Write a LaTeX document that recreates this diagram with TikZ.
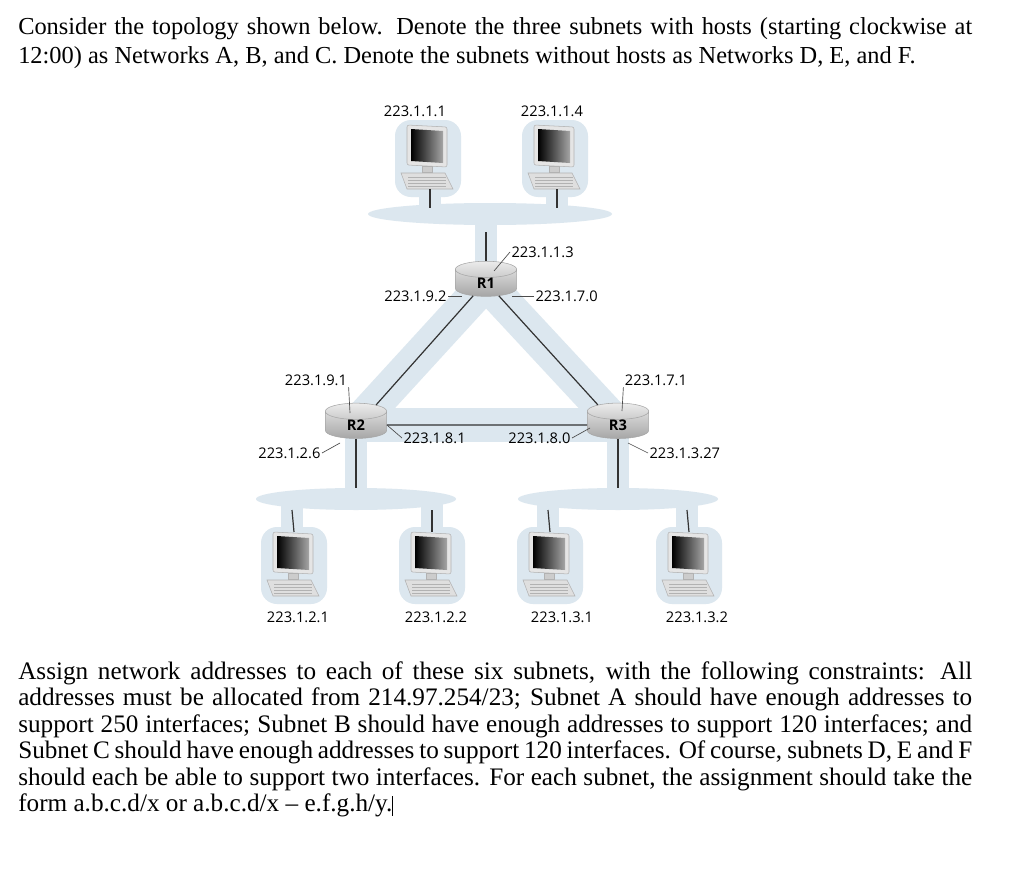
\documentclass[tikz,border=0pt]{standalone}
\usepackage{fontspec}
\setmainfont{Liberation Serif}
\newfontfamily\lbl{Open Sans}
\usetikzlibrary{shapes.geometric}
\definecolor{blob}{HTML}{DCE7EF}
\tikzset{
 x=0.75pt,y=-0.75pt,
 lab/.style={font=\lbl\fontsize{11}{12}\selectfont,inner sep=1pt},
 wire/.style={line width=0.9pt,black!80},
 band/.style={line width=26,blob,line cap=round},
 stem/.style={line width=16,blob},
 lead/.style={line width=0.5pt,black!70},
 router/.style={cylinder,shape border rotate=90,aspect=0.9,minimum width=46,minimum height=21,inner sep=0pt,draw=gray!70,top color=gray!15,bottom color=gray!70,font=\lbl\bfseries\fontsize{11}{11}\selectfont},
 pics/host/.style={code={
  \fill[blob,rounded corners=12] (-33,-37) rectangle (33,40);
  \fill[gray!20,draw=gray!60,rounded corners=1.5] (-21,-32) -- (19,-30) -- (19,10) -- (-21,8) -- cycle;
  \shade[shading angle=135,left color=black,right color=gray!70] (-17,-28) -- (15,-26) -- (15,6) -- (-17,4) -- cycle;
  \fill[gray!40,draw=gray!60] (-6,9) rectangle (4,15);
  \fill[gray!25,draw=gray!60] (-27,16) -- (17,16) -- (25,32) -- (-21,32) -- cycle;
  \foreach \yy in {20,23,26,29}{\draw[gray!60,line width=0.6pt] (-20,\yy) -- (18,\yy);}
  \coordinate (-top) at (0,-32);
  \coordinate (-bot) at (0,32);
 }}
}
\begin{document}
\begin{tikzpicture}
\useasboundingbox (0,0) rectangle (1024,878);
\fill[white] (0,0) rectangle (1024,878);
% text
\node[anchor=north west,text width=715.5pt,align=justify,inner sep=0pt,font=\fontsize{18.3}{21.75}\selectfont] (t1) at (18,17) {Consider the topology shown below. Denote the three subnets with hosts (starting clockwise at 12:00) as Networks A, B, and C. Denote the subnets without hosts as Networks D, E, and F.};
\node[anchor=north west,text width=715.5pt,align=justify,inner sep=0pt,font=\fontsize{18.9}{19.9}\selectfont] (t2) at (18,661) {\hyphenpenalty=10000\relax Assign network addresses to each of these six subnets, with the following constraints: All\linebreak addresses must be allocated from 214.97.254/23; Subnet A should have enough addresses to\linebreak support 250 interfaces; Subnet B should have enough addresses to support 120 interfaces; and\linebreak Subnet C should have enough addresses to support 120 interfaces. Of course, subnets D, E and F\linebreak should each be able to support two interfaces. For each subnet, the assignment should take the\linebreak form a.b.c.d/x or a.b.c.d/x -- e.f.g.h/y.\rule[-3pt]{0.5pt}{15pt}\hfill\null};
% coordinates
\coordinate (R1p) at (486,283);
\coordinate (R2p) at (356,425);
\coordinate (R3p) at (618,425);
% bands
\draw[band] (R1p) -- (R2p);
\draw[band] (R1p) -- (R3p);
\draw[band] (R2p) -- (R3p);
\fill[blob] (490,214) ellipse [x radius=122,y radius=11];
\fill[blob] (356,499) ellipse [x radius=100,y radius=11];
\fill[blob] (618,499) ellipse [x radius=100,y radius=11];
\draw[stem] (486,214) -- (R1p);
\draw[stem] (356,499) -- (R2p);
\draw[stem] (618,499) -- (R3p);
\foreach \xx in {430,557}{\draw[stem] (\xx,185) -- (\xx,214);}
\foreach \xx in {292,432,548,687}{\draw[stem] (\xx,499) -- (\xx,530);}
% hosts
\pic (hA1) at (428,157) {host};
\pic (hA2) at (555,157) {host};
\pic (hB1) at (294,564) {host};
\pic (hB2) at (432,564) {host};
\pic (hC1) at (550,564) {host};
\pic (hC2) at (689,564) {host};
% network bus coords
\coordinate (nA1) at (430,208); \coordinate (nA2) at (557,208);
\coordinate (nB1) at (292,510); \coordinate (nB2) at (432,510);
\coordinate (nC1) at (548,510); \coordinate (nC2) at (687,510);
\coordinate (nA) at (486,232); \coordinate (nB) at (356,488); \coordinate (nC) at (618,488);
\draw[wire] (hA1-bot) ++(2,0) coordinate (a1) -- (nA1);
\draw[wire] (hA2-bot) ++(2,0) coordinate (a2) -- (nA2);
\draw[wire] (nB1) -- (hB1-top);
\draw[wire] (nB2) -- (hB2-top);
\draw[wire] (nC1) -- (hC1-top);
\draw[wire] (nC2) -- (hC2-top);
% routers
\node[router] (R1) at (R1p) {R1};
\node[router] (R2) at (R2p) {R2};
\node[router] (R3) at (R3p) {R3};
\draw[wire] (nA) -- (R1.top);
\draw[wire] (R2.bottom) -- (nB);
\draw[wire] (R3.bottom) -- (nC);
\draw[wire] (R1.south west) -- (R2.north east);
\draw[wire] (R1.south east) -- (R3.north west);
\draw[wire] (R2.east) -- (R3.west);
% host labels
\node[lab] (lA1) at (415,111) {223.1.1.1};
\node[lab] (lA2) at (552,111) {223.1.1.4};
\node[lab] (lB1) at (298,617) {223.1.2.1};
\node[lab] (lB2) at (436,617) {223.1.2.2};
\node[lab] (lC1) at (562,617) {223.1.3.1};
\node[lab] (lC2) at (697,617) {223.1.3.2};
% interface labels
\coordinate (p192) at (462,296);
\coordinate (p170) at (512,296);
\node[lab,anchor=west] (i113) at (510,252) {223.1.1.3};
\draw[lead] (i113.west) -- (494,271);
\node[lab,anchor=east] (i192) at (448,296) {223.1.9.2};
\draw[lead] (i192.east) -- (p192);
\node[lab,anchor=west] (i170) at (534,296) {223.1.7.0};
\draw[lead] (i170.west) -- (p170);
\node[lab] (i191) at (316,380) {223.1.9.1};
\draw[lead] (i191.south east) -- (350,413);
\node[lab] (i171) at (656,380) {223.1.7.1};
\draw[lead] (i171.south west) -- (622,411);
\node[lab,anchor=west] (i181) at (402,438) {223.1.8.1};
\draw[lead] (i181.west) -- (R2.east);
\node[lab,anchor=east] (i180) at (572,438) {223.1.8.0};
\draw[lead] (i180.east) -- (590,428);
\node[lab,anchor=east] (i126) at (322,453) {223.1.2.6};
\draw[lead] (i126.east) -- (340,443);
\node[lab,anchor=west] (i1327) at (648,453) {223.1.3.27};
\draw[lead] (i1327.west) -- (628,443);
\end{tikzpicture}
\end{document}
